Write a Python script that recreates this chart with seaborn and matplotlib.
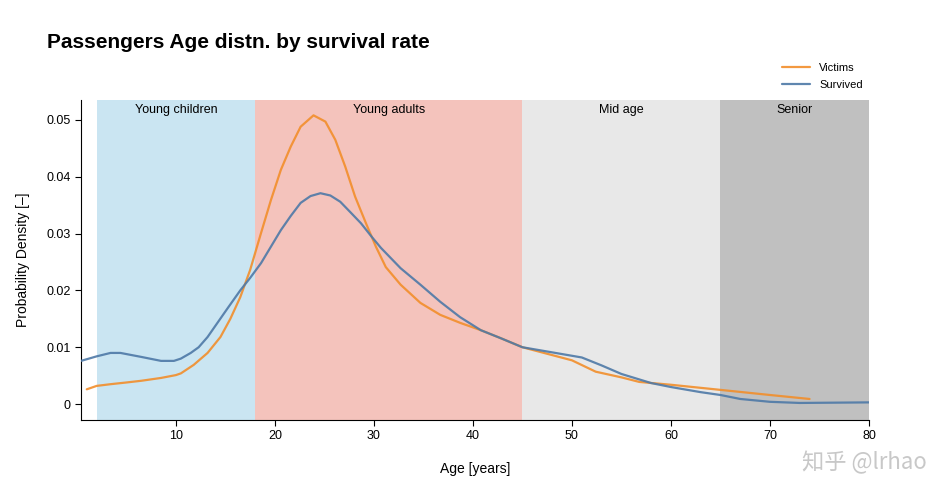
import pandas as pd
import seaborn as sns
import matplotlib.pyplot as plt

# ages / density
victims_age = [1.0, 2.0, 3.4, 5.0, 6.5, 8.5, 10.0, 10.5, 11.8, 13.2, 14.5, 15.5, 16.5,
               17.5, 18.6, 19.6, 20.6, 21.6, 22.6, 23.9, 25.1, 26.1, 27.1, 28.1, 29.2,
               30.2, 31.2, 32.7, 34.7, 36.7, 38.7, 40.8, 42.8, 45.0, 50.0, 52.4, 55.0,
               56.8, 60.0, 65.0, 70.0, 74.0]
victims_den = [0.0026, 0.0032, 0.0035, 0.0038, 0.0041, 0.0046, 0.0051, 0.0054, 0.0069,
               0.0090, 0.0118, 0.0150, 0.0188, 0.0236, 0.0301, 0.0359, 0.0412, 0.0453,
               0.0488, 0.0508, 0.0497, 0.0465, 0.0418, 0.0365, 0.0318, 0.0277, 0.0241,
               0.0210, 0.0178, 0.0157, 0.0143, 0.0130, 0.0116, 0.0100, 0.0077, 0.0057,
               0.0047, 0.0039, 0.0034, 0.0025, 0.0016, 0.0009]

survived_age = [0.42, 2.0, 3.4, 4.4, 6.5, 8.5, 9.8, 10.5, 11.5, 12.3, 13.2, 14.2, 15.2,
                16.5, 17.5, 18.6, 19.6, 20.6, 21.6, 22.6, 23.6, 24.6, 25.6, 26.6, 27.6,
                28.7, 29.7, 30.7, 32.7, 34.7, 36.7, 38.7, 40.8, 42.8, 45.0, 48.0, 50.0,
                51.0, 53.0, 55.0, 58.0, 60.0, 63.0, 65.0, 67.0, 70.0, 73.0, 80.0]
survived_den = [0.0076, 0.0084, 0.0090, 0.0090, 0.0083, 0.0076, 0.0076, 0.0080, 0.0090,
                0.0100, 0.0118, 0.0143, 0.0168, 0.0200, 0.0222, 0.0248, 0.0277, 0.0306,
                0.0331, 0.0354, 0.0366, 0.0371, 0.0367, 0.0356, 0.0338, 0.0318, 0.0296,
                0.0275, 0.0239, 0.0210, 0.0180, 0.0153, 0.0130, 0.0116, 0.0100, 0.0091,
                0.0085, 0.0082, 0.0068, 0.0053, 0.0037, 0.0030, 0.0021, 0.0016, 0.0009,
                0.0004, 0.0002, 0.0003]

band_names = ["Young children", "Young adults", "Mid age", "Senior"]
band_edges = [2, 18, 45, 65, 80]
band_colors = ["#cae5f2", "#f4c3bc", "#e8e8e8", "#c0c0c0"]

df = pd.concat([
    pd.DataFrame({"Age": victims_age, "Density": victims_den, "group": "Victims"}),
    pd.DataFrame({"Age": survived_age, "Density": survived_den, "group": "Survived"}),
], ignore_index=True)

sns.set_style("ticks")
plt.rcParams["font.family"] = ["Liberation Sans", "Noto Sans CJK SC", "DejaVu Sans"]
plt.rcParams["text.color"] = "black"
plt.rcParams["axes.labelcolor"] = "black"
plt.rcParams["xtick.color"] = "black"
plt.rcParams["ytick.color"] = "black"
plt.rcParams["axes.edgecolor"] = "black"

fig = plt.figure(figsize=(9.5, 5), dpi=100)
ax = fig.add_axes([0.0853, 0.16, 0.8294, 0.64])

# background bands
for i, name in enumerate(band_names):
    ax.axvspan(band_edges[i], band_edges[i + 1], color=band_colors[i], lw=0, zorder=0)
    ax.text((band_edges[i] + band_edges[i + 1]) / 2, 0.969, name,
            transform=ax.get_xaxis_transform(), ha="center", va="center", fontsize=9)

sns.lineplot(data=df, x="Age", y="Density", hue="group",
             palette={"Victims": "#f28e2b", "Survived": "#4e79a7"},
             linewidth=1.6, alpha=0.9, ax=ax, zorder=3)

ax.set_xlim(0.42, 80)
ax.set_ylim(-0.0028, 0.0535)
ax.set_xticks([10, 20, 30, 40, 50, 60, 70, 80])
ax.set_yticks([0, 0.01, 0.02, 0.03, 0.04, 0.05])
ax.set_yticklabels(["0", "0.01", "0.02", "0.03", "0.04", "0.05"])
ax.tick_params(labelsize=9, length=4, width=0.8)
sns.despine(ax=ax)

ax.set_xlabel("Age [years]", fontsize=10, labelpad=14)
ax.set_ylabel("Probability Density [\u2013]", fontsize=10, labelpad=12)

leg = ax.legend(loc="lower right", bbox_to_anchor=(1.005, 1.0), frameon=False,
                fontsize=8, handlelength=2.6, labelspacing=0.6)
for line in leg.get_lines():
    line.set_linewidth(1.6)

fig.text(0.049, 0.915, "Passengers Age distn. by survival rate",
         fontsize=15, fontweight="bold", ha="left", va="center")

fig.text(0.975, 0.075, "知乎 @lrhao", fontsize=16, color="#c8c8c8",
         ha="right", va="center", family=["Noto Sans CJK SC", "DejaVu Sans"])

plt.savefig("out.png")
